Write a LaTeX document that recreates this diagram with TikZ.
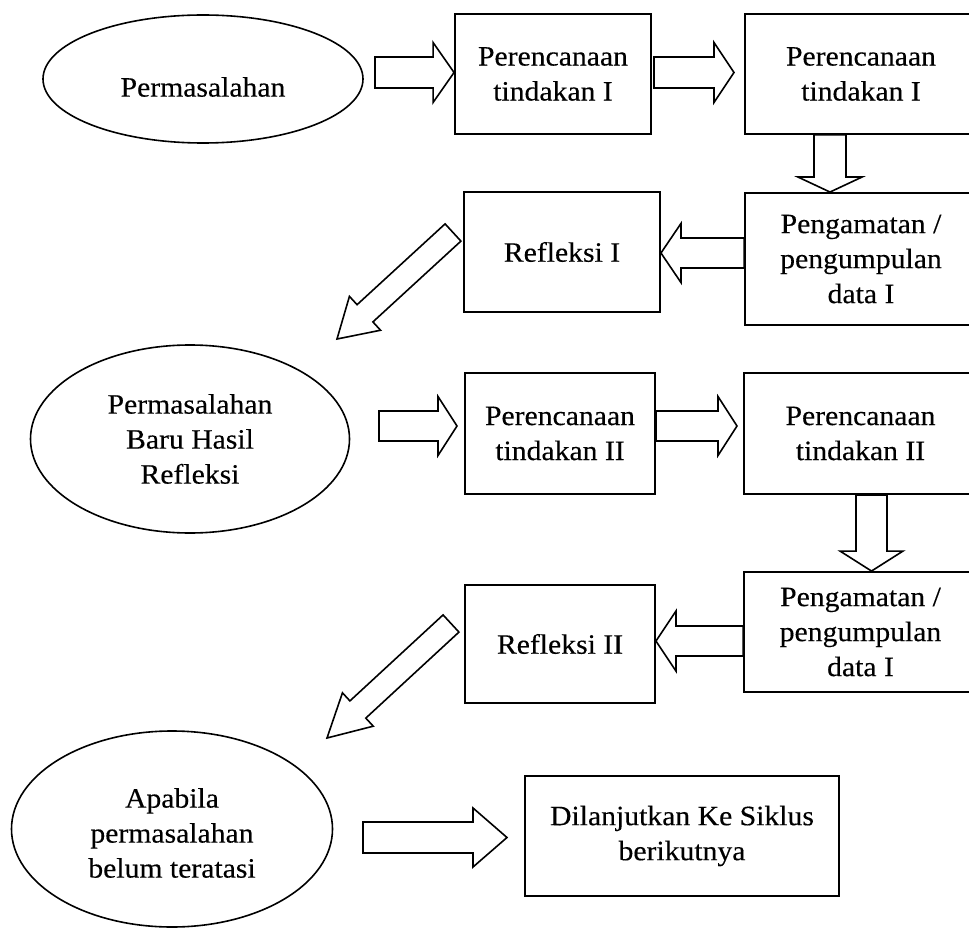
\documentclass[tikz,border=0pt]{standalone}
\usepackage{fontspec}
\setmainfont{Liberation Serif}[FakeStretch=1.06,FakeBold=0.3]
\usetikzlibrary{shapes.geometric,calc}
% #1 tail, #2 tip, #3 shaft half width, #4 head half width, #5 head length
\newcommand\blockarrow[5]{%
  \coordinate (ba-h) at ($(#2)!#5!(#1)$);
  \draw[arr] ($(#1)!#3!90:(#2)$) -- ($(ba-h)!#3!90:(#2)$) -- ($(ba-h)!#4!90:(#2)$)
    -- (#2) -- ($(ba-h)!#4!-90:(#2)$) -- ($(ba-h)!#3!-90:(#2)$) -- ($(#1)!#3!-90:(#2)$) -- cycle;}
\begin{document}
\begin{tikzpicture}[x=1pt,y=-1pt,
  every node/.style={font=\fontsize{28}{35}\selectfont, align=center, inner sep=0pt, text=black},
  box/.style={draw, line width=1.9pt, rectangle},
  ell/.style={draw, line width=1.6pt, ellipse},
  arr/.style={draw, line width=1.6pt, line join=miter, fill=white}]
\useasboundingbox (0,0) rectangle (969,928);
\clip (0,0) rectangle (969,928);
\fill[white] (0,0) rectangle (969,928);

% shapes
\node[ell, minimum width=320pt, minimum height=128pt] (e1) at (203,79) {};
\node (e1t) at (203,87) {Permasalahan};
\node[box, minimum width=196pt, minimum height=120pt] (b1) at (553,74) {Perencanaan\\tindakan I};
\node[box, minimum width=232pt, minimum height=120pt] (b2) at (861,74) {Perencanaan\\tindakan I};
\node[box, minimum width=232pt, minimum height=132pt] (b3) at (861,259) {Pengamatan /\\pengumpulan\\data I};
\node[box, minimum width=196pt, minimum height=120pt] (r1) at (562,252) {Refleksi I};

\node[ell, minimum width=319pt, minimum height=188pt] (e2) at (190,439) {Permasalahan\\Baru Hasil\\Refleksi};
\node[box, minimum width=190pt, minimum height=121pt] (b4) at (560,433.5) {Perencanaan\\tindakan II};
\node[box, minimum width=233pt, minimum height=121pt] (b5) at (860.5,433.5) {Perencanaan\\tindakan II};
\node[box, minimum width=233pt, minimum height=120pt] (b6) at (860.5,632) {Pengamatan /\\pengumpulan\\data I};
\node[box, minimum width=190pt, minimum height=118pt] (r2) at (560,644) {Refleksi II};

\node[ell, minimum width=321pt, minimum height=196pt] (e3) at (172,829) {};
\node (e3t) at (172,833) {Apabila\\permasalahan\\belum teratasi};
\node[box, minimum width=314pt, minimum height=120pt] (b7) at (682,836) {Dilanjutkan Ke Siklus\\berikutnya};

% arrow end points
\coordinate (a1s) at (375,72.5);  \coordinate (a1e) at (b1.west |- a1s);
\coordinate (a2s) at (654,72.5);  \coordinate (a2e) at (734,72.5);
\coordinate (d1s) at (b2.south -| 830,0); \coordinate (d1e) at (b3.north -| 830,0);
\coordinate (l1s) at (b3.west |- 0,253); \coordinate (l1e) at (r1.east |- 0,253);
\coordinate (g1s) at (453,232.5); \coordinate (g1e) at (337,339);
\coordinate (a3s) at (379,426);   \coordinate (a3e) at (457,426);
\coordinate (a4s) at (b4.east |- 0,426); \coordinate (a4e) at (737,426);
\coordinate (d2s) at (b5.south -| 871.5,0); \coordinate (d2e) at (b6.north -| 871.5,0);
\coordinate (l2s) at (b6.west |- 0,641); \coordinate (l2e) at (r2.east |- 0,641);
\coordinate (g2s) at (451,623.5); \coordinate (g2e) at (327,738);
\coordinate (a5s) at (363,837.5); \coordinate (a5e) at (507,837.5);

\blockarrow{a1s}{a1e}{15.5pt}{30pt}{21pt}
\blockarrow{a2s}{a2e}{15.5pt}{30pt}{20pt}
\blockarrow{d1s}{d1e}{16pt}{32pt}{15pt}
\blockarrow{l1s}{l1e}{15pt}{29.5pt}{20pt}
\blockarrow{g1s}{g1e}{11.7pt}{23pt}{38pt}
\blockarrow{a3s}{a3e}{15pt}{29.5pt}{19pt}
\blockarrow{a4s}{a4e}{15pt}{29.5pt}{19pt}
\blockarrow{d2s}{d2e}{15.5pt}{31.5pt}{20pt}
\blockarrow{l2s}{l2e}{15pt}{30pt}{20pt}
\blockarrow{g2s}{g2e}{11.7pt}{22.7pt}{42pt}
\blockarrow{a5s}{a5e}{15.5pt}{29.5pt}{34pt}
\end{tikzpicture}
\end{document}
